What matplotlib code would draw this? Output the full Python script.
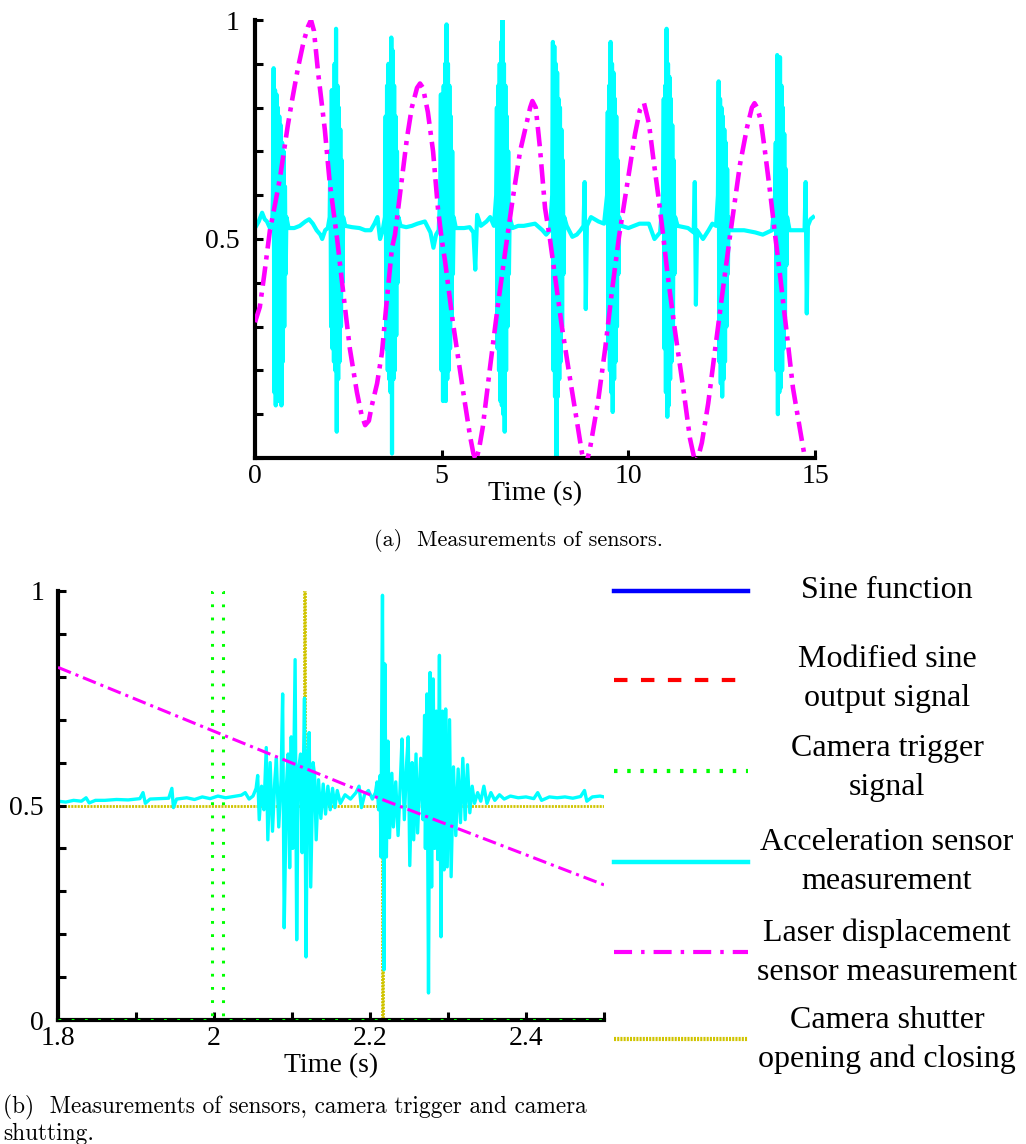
import numpy as np
import matplotlib
matplotlib.use("Agg")
import matplotlib.pyplot as plt

plt.rcParams["font.family"] = ["Liberation Serif", "DejaVu Serif"]
plt.rcParams["lines.scale_dashes"] = False
plt.rcParams["path.simplify"] = False

CYAN = "#00ffff"
MAGENTA = "#ff00ff"
GREEN = "#00ff00"
YELLOW = "#d0c400"

# ---------------- (a) whole record, 0-15 s ----------------
laser_t = [0.00, 0.13, 0.25, 0.40, 0.55, 0.67, 0.88, 1.00, 1.15, 1.30, 1.42, 1.50, 1.58, 1.69,
           1.87, 2.00, 2.20, 2.36, 2.54, 2.73, 2.85, 2.95, 3.05, 3.13, 3.27, 3.40, 3.53, 3.67,
           3.75, 3.88, 4.07, 4.20, 4.34, 4.42, 4.50, 4.63, 4.77, 4.90, 5.00, 5.09, 5.30, 5.57,
           5.76, 5.85, 5.92, 6.00, 6.10, 6.30, 6.50, 6.70, 6.90, 7.10, 7.29, 7.37, 7.43, 7.52,
           7.63, 7.77, 7.90, 7.98, 8.22, 8.44, 8.63, 8.76, 8.85, 8.97, 9.19, 9.38, 9.56, 9.75,
           9.96, 10.18, 10.31, 10.42, 10.55, 10.66, 10.80, 10.93, 11.05, 11.25, 11.47, 11.65,
           11.79, 11.88, 11.97, 12.14, 12.32, 12.51, 12.72, 12.99, 13.18, 13.31, 13.38, 13.45,
           13.55, 13.66, 13.80, 13.93, 14.06, 14.25, 14.41, 14.60, 14.73, 14.85, 15.00]
laser_v = [0.31, 0.345, 0.42, 0.52, 0.585, 0.64, 0.76, 0.82, 0.89, 0.95, 0.985, 1.00, 0.975, 0.88,
           0.75, 0.63, 0.50, 0.38, 0.25, 0.15, 0.10, 0.075, 0.085, 0.12, 0.17, 0.24, 0.36, 0.48,
           0.51, 0.60, 0.73, 0.80, 0.845, 0.855, 0.845, 0.79, 0.70, 0.57, 0.50, 0.45, 0.31, 0.155,
           0.05, 0.01, -0.005, 0.02, 0.07, 0.21, 0.345, 0.47, 0.59, 0.70, 0.77, 0.80, 0.815, 0.80,
           0.71, 0.57, 0.50, 0.45, 0.30, 0.18, 0.08, 0.01, -0.02, 0.02, 0.13, 0.25, 0.38, 0.505,
           0.62, 0.74, 0.795, 0.81, 0.765, 0.69, 0.60, 0.51, 0.42, 0.29, 0.16, 0.045,
           -0.01, 0.005, 0.035, 0.125, 0.245, 0.37, 0.505, 0.67, 0.755, 0.80, 0.81, 0.80,
           0.77, 0.70, 0.605, 0.51, 0.42, 0.28, 0.16, 0.064, 0.0, -0.04, -0.08]

acc_base_t = [0.00, 0.10, 0.19, 0.26, 0.32, 0.40, 0.46,
              0.90, 1.05, 1.20, 1.35, 1.45, 1.55, 1.65, 1.75, 1.80, 1.88, 1.95,
              2.42, 2.60, 2.80, 2.95, 3.10, 3.20, 3.28, 3.35, 3.42,
              3.90, 4.05, 4.20, 4.35, 4.55, 4.70, 4.78, 4.85, 4.92,
              5.38, 5.60, 5.75, 5.85, 5.90, 5.95, 6.05, 6.20, 6.30, 6.40,
              6.90, 7.05, 7.20, 7.50, 7.70, 7.80, 7.90,
              8.35, 8.50, 8.62, 8.72, 8.80, 8.83, 8.86, 8.89, 9.00, 9.20, 9.35,
              9.82, 10.00, 10.30, 10.55, 10.70, 10.85,
              11.32, 11.60, 11.75, 11.78, 11.81, 11.84, 12.00, 12.15, 12.25, 12.35,
              12.75, 13.10, 13.40, 13.60, 13.85,
              14.32, 14.55, 14.72, 14.75, 14.78, 14.81, 14.88, 14.95]
acc_base_v = [0.525, 0.54, 0.56, 0.545, 0.54, 0.525, 0.53,
              0.525, 0.525, 0.53, 0.54, 0.545, 0.535, 0.52, 0.51, 0.50, 0.52, 0.525,
              0.53, 0.527, 0.525, 0.52, 0.52, 0.535, 0.55, 0.50, 0.52,
              0.53, 0.527, 0.53, 0.535, 0.54, 0.515, 0.48, 0.51, 0.52,
              0.525, 0.525, 0.527, 0.515, 0.43, 0.555, 0.53, 0.54, 0.55, 0.53,
              0.525, 0.53, 0.53, 0.535, 0.52, 0.51, 0.52,
              0.53, 0.505, 0.51, 0.52, 0.53, 0.63, 0.34, 0.53, 0.55, 0.54, 0.535,
              0.53, 0.525, 0.535, 0.535, 0.50, 0.515,
              0.53, 0.525, 0.515, 0.63, 0.35, 0.52, 0.50, 0.52, 0.535, 0.53,
              0.52, 0.52, 0.515, 0.51, 0.52,
              0.52, 0.52, 0.52, 0.63, 0.33, 0.53, 0.545, 0.55]

# impact bursts, sampled every burst_dt seconds from their start time
burst_dt = 0.019
burst_start = [0.48, 2.00, 3.48, 4.96, 6.46, 7.96, 9.43, 10.93, 12.40, 13.93]
burst_vals = [
    [0.60, 0.89, 0.15, 0.84, 0.12, 0.83, 0.18, 0.80, 0.13, 0.78, 0.20, 0.76, 0.12, 0.72, 0.22, 0.70, 0.30, 0.62, 0.42, 0.55],
    [0.55, 0.70, 0.30, 0.84, 0.25, 0.80, 0.22, 0.90, 0.20, 0.98, 0.06, 0.85, 0.18, 0.80, 0.22, 0.75, 0.30, 0.68, 0.40, 0.55],
    [0.55, 0.78, 0.25, 0.85, 0.20, 0.90, 0.18, 0.88, 0.15, 0.96, 0.01, 0.93, 0.18, 0.85, 0.20, 0.78, 0.28, 0.70, 0.40, 0.55],
    [0.60, 0.83, 0.20, 0.80, 0.13, 0.85, 0.15, 0.90, 0.13, 0.99, 0.18, 0.90, 0.20, 0.85, 0.25, 0.78, 0.32, 0.70, 0.42, 0.55],
    [0.60, 0.80, 0.25, 0.85, 0.20, 0.90, 0.13, 0.95, 0.12, 1.00, 0.10, 0.90, 0.06, 0.85, 0.20, 0.78, 0.30, 0.70, 0.42, 0.55],
    [0.60, 0.95, 0.20, 0.94, 0.14, 0.90, 0.00, 0.88, 0.14, 0.82, 0.18, 0.80, 0.22, 0.75, 0.30, 0.68, 0.42, 0.55],
    [0.60, 0.79, 0.25, 0.85, 0.20, 0.95, 0.15, 0.90, 0.105, 0.88, 0.18, 0.82, 0.22, 0.78, 0.30, 0.68, 0.42, 0.55],
    [0.60, 0.82, 0.25, 0.85, 0.15, 0.98, 0.094, 0.90, 0.12, 0.87, 0.18, 0.82, 0.22, 0.76, 0.30, 0.68, 0.42, 0.55],
    [0.60, 0.86, 0.22, 0.82, 0.17, 0.80, 0.14, 0.78, 0.18, 0.75, 0.22, 0.72, 0.30, 0.66, 0.42, 0.55],
    [0.60, 0.72, 0.20, 0.92, 0.10, 0.88, 0.15, 0.915, 0.16, 0.85, 0.20, 0.80, 0.25, 0.74, 0.32, 0.66, 0.44, 0.55],
]

# ---------------- (b) zoom on one impact, 1.8-2.5 s ----------------
laser_zoom_t = [1.80, 2.00, 2.20, 2.40, 2.50]
laser_zoom_v = [0.822, 0.673, 0.525, 0.385, 0.315]

trigger_t = [1.80, 1.997, 1.997, 2.012, 2.012, 2.50]
trigger_v = [0.0, 0.0, 1.0, 1.0, 0.0, 0.0]

shutter_t = [1.80, 2.115, 2.115, 2.1165, 2.1165, 2.215, 2.215, 2.2165, 2.2165, 2.50]
shutter_v = [0.5, 0.5, 1.0, 1.0, 0.5, 0.5, 0.0, 0.0, 0.5, 0.5]

acc_zoom = [
    (1.800, 0.510), (1.810, 0.508), (1.820, 0.512), (1.830, 0.510), (1.836, 0.518), (1.840, 0.506),
    (1.848, 0.512), (1.860, 0.512), (1.875, 0.514), (1.890, 0.513), (1.905, 0.516), (1.909, 0.530),
    (1.912, 0.505), (1.918, 0.515), (1.930, 0.516), (1.942, 0.517), (1.946, 0.540), (1.948, 0.495),
    (1.952, 0.515), (1.965, 0.518), (1.975, 0.514), (1.985, 0.520), (1.995, 0.516), (2.005, 0.522),
    (2.015, 0.518), (2.025, 0.521), (2.035, 0.524), (2.040, 0.530), (2.045, 0.515), (2.050, 0.522),
    (2.054, 0.540), (2.056, 0.570), (2.058, 0.467), (2.061, 0.545), (2.064, 0.490), (2.067, 0.635),
    (2.069, 0.420), (2.072, 0.600), (2.075, 0.440), (2.078, 0.560), (2.080, 0.610), (2.083, 0.450),
    (2.086, 0.560), (2.088, 0.760), (2.090, 0.215), (2.093, 0.550), (2.095, 0.620), (2.097, 0.355),
    (2.099, 0.660), (2.101, 0.400), (2.104, 0.840), (2.106, 0.187), (2.108, 0.580), (2.111, 0.620),
    (2.113, 0.390), (2.116, 0.750), (2.118, 0.147), (2.120, 0.600), (2.122, 0.670), (2.124, 0.310),
    (2.127, 0.600), (2.129, 0.570), (2.131, 0.420), (2.134, 0.560), (2.137, 0.470), (2.140, 0.550),
    (2.143, 0.480), (2.146, 0.545), (2.149, 0.490), (2.152, 0.540), (2.155, 0.495), (2.158, 0.535),
    (2.162, 0.505), (2.168, 0.525), (2.175, 0.515), (2.182, 0.530), (2.186, 0.545), (2.189, 0.495),
    (2.193, 0.525), (2.198, 0.535), (2.203, 0.515), (2.207, 0.530),
    (2.209, 0.555), (2.211, 0.490), (2.213, 0.570), (2.214, 0.380), (2.215, 0.710), (2.216, 0.990),
    (2.218, 0.117), (2.219, 0.830), (2.221, 0.380), (2.223, 0.650), (2.225, 0.425), (2.228, 0.575),
    (2.230, 0.450), (2.233, 0.555), (2.236, 0.430), (2.239, 0.560), (2.241, 0.655), (2.244, 0.467),
    (2.247, 0.600), (2.249, 0.660), (2.251, 0.360), (2.254, 0.600), (2.256, 0.420), (2.259, 0.620),
    (2.261, 0.436), (2.265, 0.610), (2.268, 0.467), (2.270, 0.710), (2.271, 0.400), (2.273, 0.760),
    (2.275, 0.063), (2.277, 0.810), (2.279, 0.310), (2.281, 0.795), (2.283, 0.400), (2.285, 0.720),
    (2.287, 0.374), (2.289, 0.850), (2.291, 0.194), (2.293, 0.720), (2.295, 0.350), (2.297, 0.725),
    (2.299, 0.357), (2.302, 0.700), (2.304, 0.334), (2.307, 0.590), (2.310, 0.430), (2.313, 0.585),
    (2.316, 0.460), (2.319, 0.610), (2.322, 0.467), (2.325, 0.595), (2.328, 0.483), (2.331, 0.545),
    (2.334, 0.505), (2.338, 0.530), (2.342, 0.510), (2.346, 0.545), (2.350, 0.505), (2.355, 0.530),
    (2.360, 0.512), (2.366, 0.525), (2.372, 0.515), (2.380, 0.522), (2.390, 0.518), (2.400, 0.520),
    (2.410, 0.516), (2.415, 0.530), (2.420, 0.512), (2.430, 0.520), (2.440, 0.518), (2.450, 0.520),
    (2.460, 0.517), (2.470, 0.521), (2.475, 0.535), (2.478, 0.510), (2.485, 0.520), (2.495, 0.522),
    (2.500, 0.520),
]

legend_labels = ["Sine function", "Modified sine\noutput signal", "Camera trigger\nsignal",
                 "Acceleration sensor\nmeasurement", "Laser displacement\nsensor measurement",
                 "Camera shutter\nopening and closing"]

# ---------------- figure ----------------
W, H = 1026, 1144
fig = plt.figure(figsize=(W / 100, H / 100), dpi=100)


def style_axes(ax):
    for s in ["top", "right"]:
        ax.spines[s].set_visible(False)
    for s in ["left", "bottom"]:
        ax.spines[s].set_linewidth(3)
    ax.tick_params(direction="in", length=6, width=2.2, labelsize=20, pad=4)
    ax.set_ylim(0, 1)


# (a)
ax1 = fig.add_axes([255 / W, 1 - 458 / H, 560 / W, 438 / H])
style_axes(ax1)

acc_t = list(acc_base_t)
acc_v = list(acc_base_v)
for t0, vals in zip(burst_start, burst_vals):
    acc_t += [t0 + i * burst_dt for i in range(len(vals))]
    acc_v += vals
order = np.argsort(acc_t)
acc_t = np.array(acc_t)[order]
acc_v = np.array(acc_v)[order]

ax1.plot(acc_t, acc_v, color=CYAN, lw=3, zorder=2)
ax1.plot(laser_t, laser_v, color=MAGENTA, lw=3.3, dashes=(14, 5, 3, 5), zorder=3)
ax1.set_xlim(0, 15)
ax1.set_xticks([0, 5, 10, 15])
ax1.set_yticks(np.round(np.arange(0, 1.01, 0.1), 1))
ax1.set_yticklabels(["", "", "", "", "", "0.5", "", "", "", "", "1"])
ax1.tick_params(axis="y", pad=11)
ax1.set_xlabel("Time (s)", fontsize=20)
ax1.xaxis.set_label_coords(0.5, -0.052)

# (b)
ax2 = fig.add_axes([58 / W, 1 - 1020 / H, 546 / W, 429 / H])
style_axes(ax2)
zt, zv = zip(*acc_zoom)
ax2.plot(shutter_t, shutter_v, color=YELLOW, lw=2, dashes=(1.5, 0.8), zorder=1)
ax2.plot(zt, zv, color=CYAN, lw=2.4, zorder=2)
ax2.plot(laser_zoom_t, laser_zoom_v, color=MAGENTA, lw=2.2, dashes=(10, 3.6, 2.2, 3.6), zorder=3)
ax2.plot(trigger_t, trigger_v, color=GREEN, lw=2.2, dashes=(2, 7.5), zorder=4)
ax2.set_xlim(1.8, 2.5)
ax2.set_xticks(np.round(np.arange(1.8, 2.51, 0.1), 1))
ax2.set_xticklabels(["1.8", "", "2", "", "2.2", "", "2.4", ""])
ax2.set_yticks(np.round(np.arange(0, 1.01, 0.1), 1))
ax2.set_yticklabels(["0", "", "", "", "", "0.5", "", "", "", "", "1"])
ax2.tick_params(axis="y", pad=10)
ax2.set_xlabel("Time (s)", fontsize=20)
ax2.xaxis.set_label_coords(0.5, -0.078)

# legend drawn beside panel (b), in pixel units
lax = fig.add_axes([0, 0, 1, 1])
lax.set_xlim(0, W)
lax.set_ylim(H, 0)
lax.axis("off")
lax.set_facecolor("none")
handle_styles = [
    dict(color="#0000ff", lw=3.2),
    dict(color="#ff0000", lw=3, dashes=(9.7, 9.7)),
    dict(color=GREEN, lw=3, dashes=(2.5, 7)),
    dict(color=CYAN, lw=3.2),
    dict(color=MAGENTA, lw=3, dashes=(13, 6.5, 2.5, 6.5)),
    dict(color=YELLOW, lw=3, dashes=(1.5, 0.8)),
]
line_y = [591, 680, 771, 862, 952, 1039]
text_y = [591, 679, 768, 862, 953, 1040]
for lab, st, ly, ty in zip(legend_labels, handle_styles, line_y, text_y):
    lax.plot([614, 748], [ly, ly], **st)
    lax.text(887, ty, lab, fontsize=23, ha="center", va="center", linespacing=1.45)

# captions
fig.text(518 / W, 1 - 540 / H, "(a)  Measurements of sensors.", family="cmr10",
         fontsize=16, ha="center", va="center")
fig.text(3 / W, 1 - 1120 / H, "(b)  Measurements of sensors, camera trigger and camera\nshutting.",
         family="cmr10", fontsize=16.8, ha="left", va="center", linespacing=1.2)

fig.savefig("out.png", dpi=100)
